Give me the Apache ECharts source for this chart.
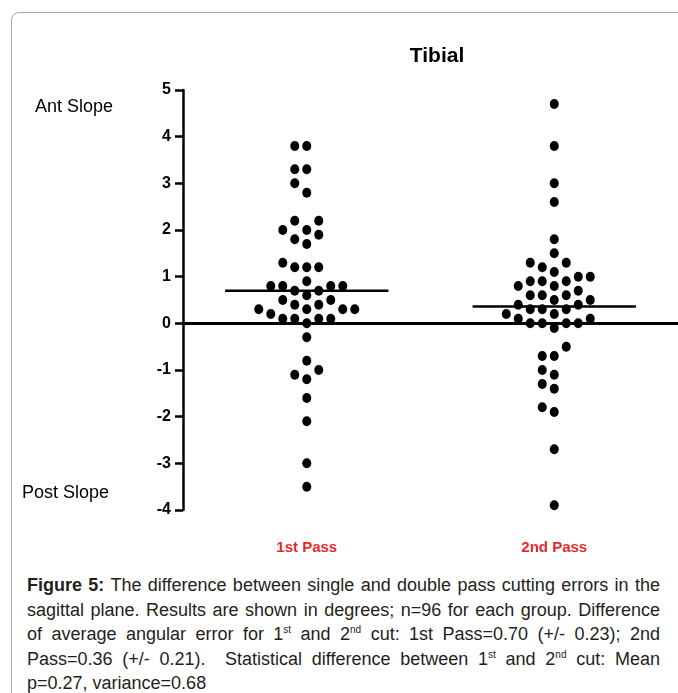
<!DOCTYPE html>
<html>
<head>
<meta charset="utf-8">
<script src="https://cdn.jsdelivr.net/npm/echarts@6/dist/echarts.min.js"></script>
<style>
  html, body { margin: 0; padding: 0; background: #fff; }
  body { width: 678px; height: 693px; position: relative; overflow: hidden; }
  .frame { position: absolute; left: 11px; top: 12px; width: 720px; height: 720px;
           border: 1px solid #a8a8a8; border-radius: 8px; box-sizing: border-box; }
  #chart { position: absolute; left: 0; top: 0; width: 678px; height: 570px; }
  .caption { position: absolute; left: 27px; top: 573px; width: 633px;
             font-family: 'Liberation Sans', Arial, sans-serif; font-size: 18px;
             line-height: 24.5px; color: #231f20; }
  .caption div { white-space: nowrap; text-align: justify; text-align-last: justify; }
  .caption div.last { text-align-last: left; }
  .caption sup { font-size: 10px; line-height: 0; }
</style>
</head>
<body>
<div class="frame"></div>
<div id="chart"></div>
<div class="caption">
  <div><b>Figure 5:</b> The difference between single and double pass cutting errors in the</div>
  <div>sagittal plane. Results are shown in degrees; n=96 for each group. Difference</div>
  <div>of average angular error for 1<sup>st</sup> and 2<sup>nd</sup> cut: 1st Pass=0.70 (+/- 0.23); 2nd</div>
  <div>Pass=0.36 (+/- 0.21).&nbsp; Statistical difference between 1<sup>st</sup> and 2<sup>nd</sup> cut: Mean</div>
  <div class="last">p=0.27, variance=0.68</div>
</div>
<script>
// groups on the x axis
var categories = ['1st Pass', '2nd Pass'];

// angular error per cut (degrees)
var firstPass = [3.8, 3.8, 3.3, 3.3, 3.0, 2.8, 2.2, 2.2, 2.0, 2.0, 1.9, 1.8, 1.7,
    1.3, 1.2, 1.2, 1.2, 0.9, 0.8, 0.8, 0.8, 0.8, 0.7, 0.7, 0.6, 0.5, 0.5,
    0.4, 0.4, 0.3, 0.3, 0.3, 0.3, 0.2, 0.1, 0.1, 0.1, 0.1, 0.0,
    -0.3, -0.8, -1.0, -1.1, -1.2, -1.6, -2.1, -3.0, -3.5];
var secondPass = [4.7, 3.8, 3.0, 2.6, 1.8, 1.5, 1.3, 1.3, 1.2, 1.1, 1.0, 1.0,
    0.9, 0.9, 0.9, 0.8, 0.8, 0.7, 0.6, 0.6, 0.6, 0.5, 0.5, 0.4, 0.4,
    0.3, 0.3, 0.3, 0.2, 0.2, 0.1, 0.1, 0.0, 0.0, 0.0, 0.0, -0.1,
    -0.5, -0.7, -0.7, -1.0, -1.1, -1.3, -1.4, -1.8, -1.9, -2.7, -3.9];

// group means (from the caption)
var means = [0.70, 0.36];

// y axis ticks
var yTicks = [-4, -3, -2, -1, 0, 1, 2, 3, 4, 5];

var FONT = "'Liberation Sans Narrow', 'Liberation Sans', Arial, sans-serif";
var gridWidth = 678 - 183;
var colStep = 12 / (gridWidth / 2);   // 12px between dot columns, in x units
var minGap = 0.29;                    // dots in one column need this much room

// simple column beeswarm: lowest values first, nearest free column to the centre
function swarm(values, center) {
    var sorted = values.slice().sort(function(a, b) { return a - b; });
    var placed = [];
    return sorted.map(function(v) {
        for (var k = 0; ; k++) {
            var col = k === 0 ? 0 : (k % 2 ? -Math.ceil(k / 2) : Math.ceil(k / 2));
            var hit = placed.some(function(p) {
                return p.col === col && Math.abs(p.v - v) < minGap;
            });
            if (!hit) {
                placed.push({ col: col, v: v });
                return [center + col * colStep, v];
            }
        }
    });
}

function meanLine(i) {
    var c = i + 1;
    return [[c - 0.33, means[i]], [c + 0.33, means[i]]];
}

var chart = echarts.init(document.getElementById('chart'));
var option = {
    backgroundColor: 'transparent',
    animation: false,
    title: {
        text: 'Tibial',
        left: 432, top: 41, textAlign: 'center',
        textStyle: { fontFamily: FONT, fontSize: 21, fontWeight: 'bold', color: '#000' }
    },
    graphic: [
        { type: 'text', left: 35, top: 98,
          style: { text: 'Ant Slope', font: '18px ' + FONT, fill: '#000' } },
        { type: 'text', left: 22, top: 484,
          style: { text: 'Post Slope', font: '18px ' + FONT, fill: '#000' } }
    ],
    grid: { left: 183, right: 0, top: 90, height: 420 },
    xAxis: [{
        type: 'category', data: categories,
        axisLine: { onZero: true, lineStyle: { color: '#000', width: 3 } },
        axisTick: { alignWithLabel: true, length: 9, lineStyle: { color: '#000', width: 2 } },
        axisLabel: { show: false },
        splitLine: { show: false }
    }, {
        type: 'category', data: categories, position: 'bottom',
        axisLine: { show: false, onZero: false },
        axisTick: { show: false },
        axisLabel: { margin: 30, fontFamily: FONT, fontSize: 15, fontWeight: 'bold', color: '#e8262a' }
    }, {
        type: 'value', min: 0.5, max: 2.5, show: false
    }],
    yAxis: {
        type: 'value', min: yTicks[0], max: yTicks[yTicks.length - 1], interval: 1,
        axisLine: { show: true, lineStyle: { color: '#000', width: 2.5 } },
        axisTick: { show: true, length: 8, lineStyle: { color: '#000', width: 2.5 } },
        axisLabel: { margin: 12, fontFamily: FONT, fontSize: 16, fontWeight: 'bold', color: '#000' },
        splitLine: { show: false }
    },
    series: [{
        type: 'scatter', xAxisIndex: 2, symbolSize: [9, 10],
        itemStyle: { color: '#000', opacity: 1 },
        data: swarm(firstPass, 1)
    }, {
        type: 'scatter', xAxisIndex: 2, symbolSize: [9, 10],
        itemStyle: { color: '#000', opacity: 1 },
        data: swarm(secondPass, 2)
    }, {
        type: 'line', xAxisIndex: 2, symbol: 'none',
        lineStyle: { color: '#000', width: 2.5 },
        data: meanLine(0)
    }, {
        type: 'line', xAxisIndex: 2, symbol: 'none',
        lineStyle: { color: '#000', width: 2.5 },
        data: meanLine(1)
    }]
};
chart.setOption(option);
</script>
</body>
</html>
